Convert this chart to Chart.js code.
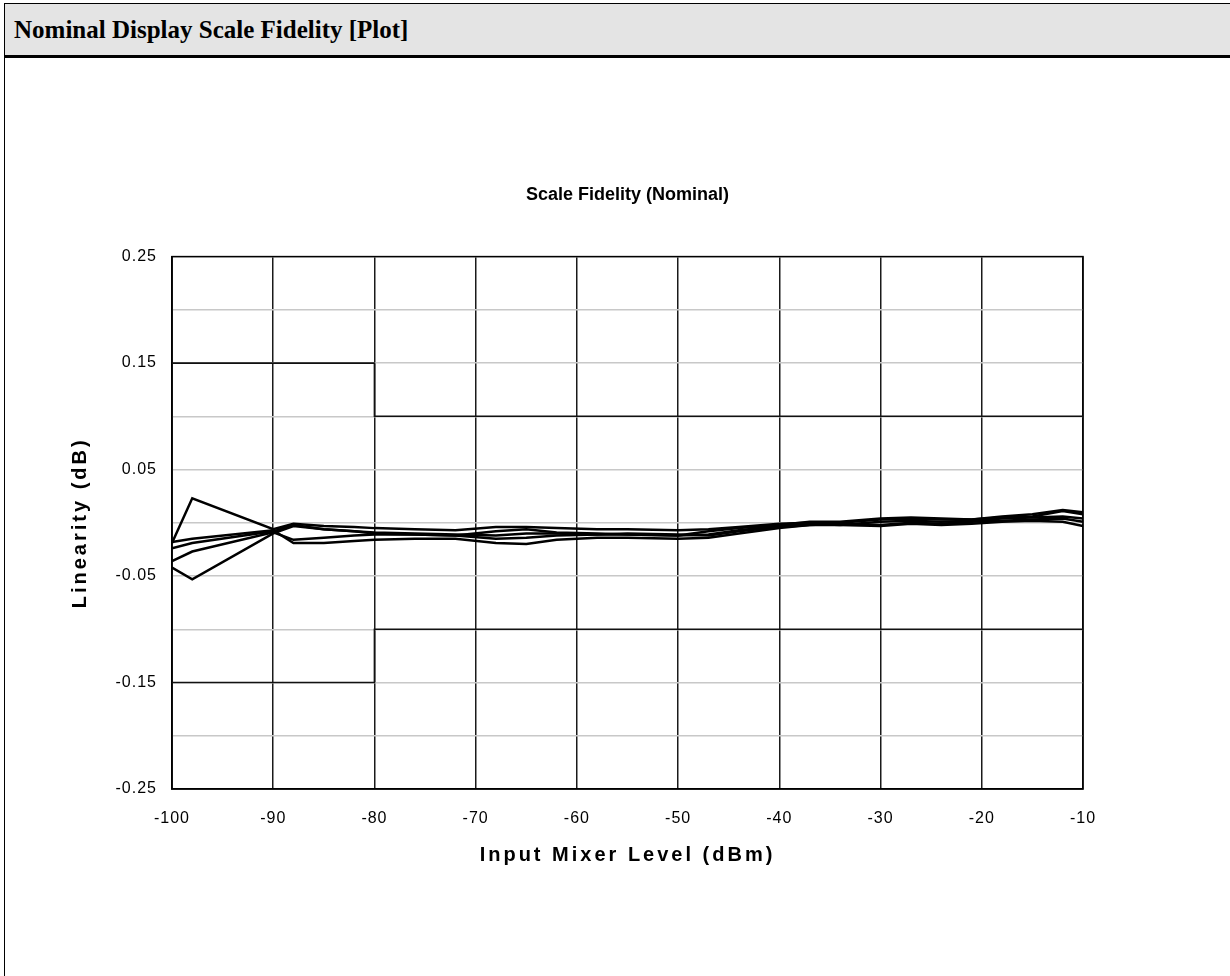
<!DOCTYPE html>
<html>
<head>
<meta charset="utf-8">
<script src="https://cdn.jsdelivr.net/npm/chart.js@4/dist/chart.umd.min.js"></script>
<style>
  html, body { margin: 0; padding: 0; background: #fff; }
  body { width: 1230px; height: 976px; position: relative; overflow: hidden; }
  #frame { position: absolute; left: 4px; top: 3px; width: 1240px; height: 1000px; border-left: 1px solid #000; border-top: 1px solid #000; }
  #hdr { position: absolute; left: 5px; top: 4px; width: 1225px; height: 51px; background: #e4e4e4; border-bottom: 3px solid #000;
         font-family: "Liberation Serif", "Times New Roman", serif; font-weight: bold; font-size: 25px; line-height: 51px;
         padding-left: 9px; box-sizing: content-box; z-index: 2; }
  #wrap { position: absolute; left: 0; top: 0; width: 1230px; height: 976px; z-index: 1; }
</style>
</head>
<body>
<div id="frame"></div>
<div id="hdr">Nominal Display Scale Fidelity [Plot]</div>
<div id="wrap"><canvas id="c"></canvas></div>
<script>
// ---- Data ----
const chartTitle = 'Scale Fidelity (Nominal)';
const xAxisTitle = 'Input Mixer Level (dBm)';
const yAxisTitle = 'Linearity (dB)';

const mixerLevels = [-100, -98, -90, -88, -85, -82, -80, -76, -72, -68, -65, -62, -58, -55, -50, -47, -44, -40, -37, -34, -30, -27, -24, -21, -18, -15, -12, -10];

const trace1 = [-0.019, 0.023, -0.006, -0.001, -0.003, -0.004, -0.005, -0.006, -0.007, -0.004, -0.004, -0.005, -0.006, -0.006, -0.007, -0.006, -0.004, -0.001, 0.000, 0.000, 0.003, 0.004, 0.003, 0.003, 0.005, 0.006, 0.011, 0.008];
const trace2 = [-0.042, -0.053, -0.010, -0.003, -0.006, -0.008, -0.009, -0.010, -0.011, -0.012, -0.010, -0.010, -0.011, -0.011, -0.012, -0.011, -0.007, -0.003, -0.001, -0.002, 0.001, 0.002, 0.001, 0.002, 0.004, 0.005, 0.006, 0.004];
const trace3 = [-0.018, -0.015, -0.007, -0.019, -0.019, -0.017, -0.016, -0.015, -0.015, -0.019, -0.020, -0.016, -0.014, -0.014, -0.015, -0.014, -0.010, -0.005, -0.002, -0.002, -0.003, -0.001, -0.002, -0.001, 0.001, 0.002, 0.001, -0.003];
const trace4 = [-0.036, -0.027, -0.009, -0.016, -0.014, -0.012, -0.011, -0.011, -0.012, -0.015, -0.014, -0.012, -0.011, -0.010, -0.011, -0.012, -0.008, -0.004, -0.002, -0.001, -0.002, 0.000, -0.001, 0.001, 0.002, 0.003, 0.004, 0.001];
const trace5 = [-0.024, -0.019, -0.008, -0.002, -0.006, -0.008, -0.010, -0.011, -0.012, -0.008, -0.006, -0.009, -0.010, -0.011, -0.012, -0.008, -0.005, -0.002, 0.001, 0.001, 0.004, 0.005, 0.004, 0.003, 0.006, 0.008, 0.012, 0.010];

const limitLevels = [-100, -80, -80, -10];
const upperLimit = [0.15, 0.15, 0.10, 0.10];
const lowerLimit = [-0.15, -0.15, -0.10, -0.10];

const xMin = -100, xMax = -10, xStep = 10;
const yMin = -0.25, yMax = 0.25, yStep = 0.05;

// ---- helpers ----
const toPoints = (xs, ys) => xs.map((x, i) => ({ x: x, y: ys[i] }));

// letter spacing to mimic the wide, old bitmap-style text of the reference
(function patchSpacing() {
  const wrap = (proto, name, spacing) => {
    if (!proto || !proto[name]) return;
    const orig = proto[name];
    proto[name] = function () {
      const ctx = this.ctx;
      ctx.save();
      try { ctx.letterSpacing = spacing; } catch (e) {}
      const r = orig.apply(this, arguments);
      ctx.restore();
      return r;
    };
  };
  wrap(Chart.Scale.prototype, 'drawTitle', '3px');
  wrap(Chart.Scale.prototype, 'drawLabels', '1px');
})();

const frameBorder = {
  id: 'frameBorder',
  beforeDatasetsDraw(chart) {
    const { ctx, chartArea: a } = chart;
    ctx.save();
    ctx.strokeStyle = '#000';
    ctx.lineWidth = 1.5;
    ctx.strokeRect(a.left, a.top, a.right - a.left, a.bottom - a.top);
    ctx.restore();
  }
};

const sans = '"Liberation Sans", Arial, sans-serif';
const traceStyle = { borderColor: '#000', borderWidth: 2.5, pointRadius: 0, tension: 0, fill: false };
const limitStyle = { borderColor: '#111', borderWidth: 1.6, pointRadius: 0, tension: 0, fill: false };

new Chart(document.getElementById('c'), {
  type: 'line',
  data: {
    datasets: [
      Object.assign({ label: 'Upper limit', data: toPoints(limitLevels, upperLimit) }, limitStyle),
      Object.assign({ label: 'Lower limit', data: toPoints(limitLevels, lowerLimit) }, limitStyle),
      Object.assign({ label: 'Trace 1', data: toPoints(mixerLevels, trace1) }, traceStyle),
      Object.assign({ label: 'Trace 2', data: toPoints(mixerLevels, trace2) }, traceStyle),
      Object.assign({ label: 'Trace 3', data: toPoints(mixerLevels, trace3) }, traceStyle),
      Object.assign({ label: 'Trace 4', data: toPoints(mixerLevels, trace4) }, traceStyle),
      Object.assign({ label: 'Trace 5', data: toPoints(mixerLevels, trace5) }, traceStyle)
    ]
  },
  options: {
    responsive: true,
    maintainAspectRatio: false,
    animation: false,
    layout: { padding: { left: 64, right: 147, top: 184, bottom: 105 } },
    plugins: {
      legend: { display: false },
      tooltip: { enabled: false },
      title: {
        display: true, text: chartTitle, color: '#000', fullSize: false,
        font: { family: sans, size: 18, weight: 'bold' },
        padding: { top: 0, bottom: 51 }
      }
    },
    scales: {
      x: {
        type: 'linear', min: xMin, max: xMax,
        afterFit(scale) { scale.height = 82; },
        ticks: { stepSize: xStep, color: '#000', padding: 20, maxRotation: 0, autoSkip: false,
                 font: { family: sans, size: 16 }, callback: v => String(v) },
        grid: { color: '#1a1a1a', lineWidth: 1.5, drawTicks: false },
        border: { display: true, color: '#000', width: 1.5 },
        title: { display: true, text: xAxisTitle, color: '#000',
                 font: { family: sans, size: 20, weight: 'bold' }, padding: { top: 0, bottom: 4 } }
      },
      y: {
        min: yMin, max: yMax,
        afterFit(scale) { scale.width = 108; },
        ticks: { stepSize: yStep, color: '#000', padding: 15, autoSkip: false,
                 font: { family: sans, size: 16 },
                 callback: v => (Math.abs(Math.round(v * 100)) % 10 === 5 ? v.toFixed(2) : '') },
        grid: { color: '#c8c8c8', lineWidth: 1.5, drawTicks: false },
        border: { display: true, color: '#000', width: 1.5 },
        title: { display: true, text: yAxisTitle, color: '#000',
                 font: { family: sans, size: 20, weight: 'bold' }, padding: { top: 4, bottom: 0 } }
      }
    }
  },
  plugins: [frameBorder]
});
</script>
</body>
</html>
